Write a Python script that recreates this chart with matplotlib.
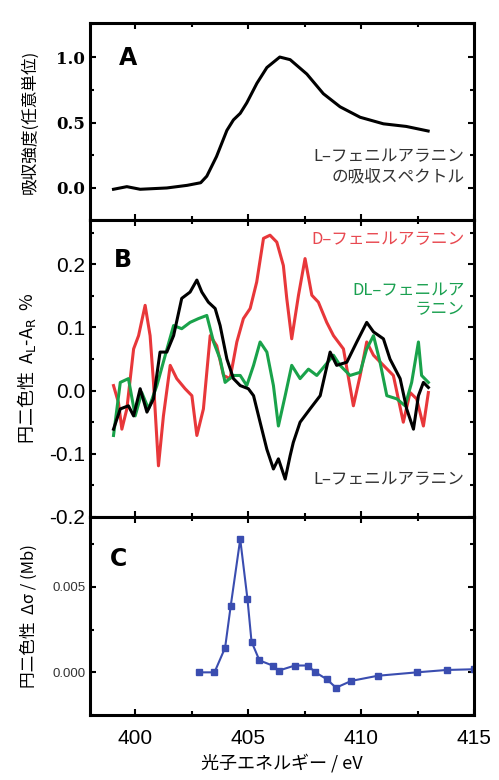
import matplotlib
matplotlib.use("Agg")
import matplotlib.pyplot as plt
from matplotlib.ticker import MultipleLocator

plt.rcParams['font.family'] = ['Noto Sans CJK JP', 'DejaVu Sans']
plt.rcParams['axes.unicode_minus'] = False

# panel A: absorption spectrum of L-phenylalanine
abs_x = [399.04, 399.63, 400.22, 401.4, 402.3, 402.9, 403.17, 403.6, 404.06, 404.35,
         404.65, 404.94, 405.39, 405.83, 406.4, 406.86, 407.6, 408.33, 409.07, 409.96,
         410.99, 412.0, 412.97]
abs_y = [-0.01, 0.01, -0.01, 0.0, 0.02, 0.04, 0.09, 0.24, 0.44, 0.52,
         0.57, 0.65, 0.80, 0.92, 1.0, 0.98, 0.87, 0.72, 0.62, 0.54,
         0.49, 0.47, 0.435]

# panel B: CD (A_L - A_R, %)
l_x = [399.04, 399.34, 399.7, 399.93, 400.22, 400.52, 400.81, 401.1, 401.4, 401.7,
       402.06, 402.43, 402.73, 402.95, 403.24, 403.54, 403.76, 404.06, 404.35, 404.65,
       405.01, 405.24, 405.53, 405.83, 406.12, 406.34, 406.64, 406.86, 407.0, 407.3,
       407.74, 408.19, 408.63, 408.92, 409.37, 409.81, 410.25, 410.55, 410.99, 411.28,
       411.73, 412.02, 412.32, 412.54, 412.76, 412.98]
l_y = [-0.061, -0.029, -0.024, -0.04, 0.003, -0.034, -0.013, 0.061, 0.061, 0.087,
       0.146, 0.156, 0.175, 0.156, 0.14, 0.13, 0.103, 0.05, 0.019, 0.008,
       0.003, -0.008, -0.05, -0.093, -0.124, -0.108, -0.14, -0.103, -0.082, -0.05,
       -0.029, -0.008, 0.061, 0.04, 0.045, 0.077, 0.108, 0.093, 0.082, 0.05,
       0.019, -0.029, -0.061, -0.008, 0.013, 0.005]

d_x = [399.04, 399.26, 399.41, 399.63, 399.93, 400.15, 400.44, 400.66, 400.81, 401.03,
       401.25, 401.55, 401.84, 402.21, 402.51, 402.73, 403.02, 403.32, 403.61, 403.91,
       404.2, 404.5, 404.79, 405.09, 405.38, 405.68, 405.97, 406.27, 406.56, 406.71,
       406.93, 407.23, 407.52, 407.82, 408.11, 408.48, 408.78, 409.22, 409.66, 409.96,
       410.25, 410.55, 410.99, 411.43, 411.87, 412.17, 412.46, 412.76, 412.98]
d_y = [0.008, -0.019, -0.061, -0.029, 0.066, 0.087, 0.135, 0.087, 0.013, -0.119,
       -0.04, 0.04, 0.019, 0.003, -0.008, -0.071, -0.029, 0.087, 0.071, 0.024,
       0.019, 0.077, 0.114, 0.13, 0.172, 0.241, 0.246, 0.235, 0.198, 0.146,
       0.082, 0.151, 0.209, 0.151, 0.14, 0.108, 0.087, 0.066, -0.024, 0.024,
       0.077, 0.056, 0.04, 0.024, -0.05, -0.003, -0.013, -0.056, -0.003]

dl_x = [399.04, 399.34, 399.7, 400.0, 400.29, 400.59, 400.96, 401.33, 401.7, 402.06,
        402.43, 402.8, 403.17, 403.47, 403.76, 403.98, 404.35, 404.65, 404.94, 405.24,
        405.53, 405.83, 406.12, 406.34, 406.64, 406.93, 407.3, 407.67, 408.04, 408.41,
        408.78, 409.07, 409.51, 409.96, 410.25, 410.55, 410.84, 411.14, 411.58, 411.95,
        412.24, 412.54, 412.68, 412.98]
dl_y = [-0.071, 0.013, 0.019, -0.04, -0.003, -0.029, 0.008, 0.056, 0.103, 0.098,
        0.108, 0.114, 0.119, 0.077, 0.05, 0.013, 0.024, 0.024, 0.008, 0.04,
        0.077, 0.061, 0.008, -0.056, -0.008, 0.04, 0.019, 0.034, 0.024, 0.04,
        0.056, 0.04, 0.024, 0.029, 0.066, 0.087, 0.045, -0.008, -0.013, -0.024,
        0.013, 0.077, 0.024, 0.013]

# panel C: delta sigma (Mb)
c_x = [402.83, 403.51, 403.98, 404.23, 404.65, 404.97, 405.15, 405.5, 406.08, 406.35,
       407.07, 407.64, 407.98, 408.48, 408.89, 409.57, 410.74, 412.47, 413.8, 414.98]
c_y = [0.0, 0.0, 0.00144, 0.0039, 0.0078, 0.0043, 0.0018, 0.0007, 0.0004, 0.0001,
       0.0004, 0.0004, 0.0, -0.0004, -0.0009, -0.0005, -0.0002, 0.0, 0.00014, 0.00018]

fig = plt.figure(figsize=(4.99, 7.8), dpi=100)
L, W = 0.1804, 0.7695
axA = fig.add_axes([L, 0.7179, W, 0.2526])
axB = fig.add_axes([L, 0.3372, W, 0.3807])
axC = fig.add_axes([L, 0.0833, W, 0.2539])

for ax in (axA, axB, axC):
    ax.set_xlim(398, 415)
    ax.xaxis.set_major_locator(MultipleLocator(5))
    ax.xaxis.set_minor_locator(MultipleLocator(2.5))
    ax.tick_params(which='both', direction='in', top=True, right=True, width=1.5)
    ax.tick_params(which='major', length=4)
    ax.tick_params(which='minor', length=3)
    for s in ax.spines.values():
        s.set_linewidth(2.2)

axA.tick_params(labelbottom=False)
axB.tick_params(labelbottom=False)

# A
axA.plot(abs_x, abs_y, color='black', lw=2.2)
axA.set_ylim(-0.245, 1.26)
axA.yaxis.set_minor_locator(MultipleLocator(0.25))
axA.set_yticks([0.0, 0.5, 1.0])
axA.set_yticklabels(['0.0', '0.5', '1.0'], family='DejaVu Serif', fontsize=12, fontweight='bold')
axA.text(0.1, 0.82, 'A', transform=axA.transAxes, fontsize=17, fontweight='bold',
         family='DejaVu Sans', ha='center', va='center')
axA.text(0.975, 0.27, 'L–フェニルアラニン\nの吸収スペクトル', transform=axA.transAxes,
         ha='right', va='center', fontsize=12, color='#333333', linespacing=1.2)
axA.set_ylabel('吸収強度(任意単位)', fontsize=12)

# B
axB.plot(d_x, d_y, color='#e8373a', lw=2.2)
axB.plot(dl_x, dl_y, color='#19a24a', lw=2.2)
axB.plot(l_x, l_y, color='black', lw=2.2)
axB.set_ylim(-0.2, 0.27)
axB.set_yticks([-0.2, -0.1, 0.0, 0.1, 0.2])
axB.yaxis.set_minor_locator(MultipleLocator(0.05))
axB.set_yticklabels(['-0.2', '-0.1', '0.0', '0.1', '0.2'], family='Liberation Sans', fontsize=15)
axB.text(0.085, 0.865, 'B', transform=axB.transAxes, fontsize=17, fontweight='bold',
         family='DejaVu Sans', ha='center', va='center')
axB.text(0.975, 0.935, 'D–フェニルアラニン', transform=axB.transAxes, ha='right',
         va='center', fontsize=12, color='#e84850')
axB.text(0.975, 0.73, 'DL–フェニルア\nラニン', transform=axB.transAxes, ha='right',
         va='center', fontsize=12, color='#1aa050', linespacing=1.15)
axB.text(0.975, 0.125, 'L–フェニルアラニン', transform=axB.transAxes, ha='right',
         va='center', fontsize=12, color='#333333')
axB.set_ylabel('円二色性  A$_\\mathrm{L}$-A$_\\mathrm{R}$  %', fontsize=13)

# C
axC.plot(c_x, c_y, color='#3a4db0', lw=1.5, marker='s', markersize=4)
axC.set_ylim(-0.0025, 0.0091)
axC.set_yticks([0.0, 0.005])
axC.yaxis.set_minor_locator(MultipleLocator(0.0025))
axC.set_yticklabels(['0.000', '0.005'], family='Liberation Sans', fontsize=9.5, color='#333333')
axC.set_xticks([400, 405, 410, 415])
axC.set_xticklabels(['400', '405', '410', '415'], family='Liberation Sans', fontsize=15)
axC.tick_params(axis='x', which='major', pad=10)
axC.text(0.075, 0.79, 'C', transform=axC.transAxes, fontsize=17, fontweight='bold',
         family='DejaVu Sans', ha='center', va='center')
axC.set_ylabel('円二色性  Δσ / (Mb)', fontsize=12)
axC.set_xlabel('光子エネルギー / eV', fontsize=13, labelpad=4)

for ax in (axA, axB, axC):
    ax.yaxis.set_label_coords(-0.135, 0.5)

fig.savefig('out.png', dpi=100)
